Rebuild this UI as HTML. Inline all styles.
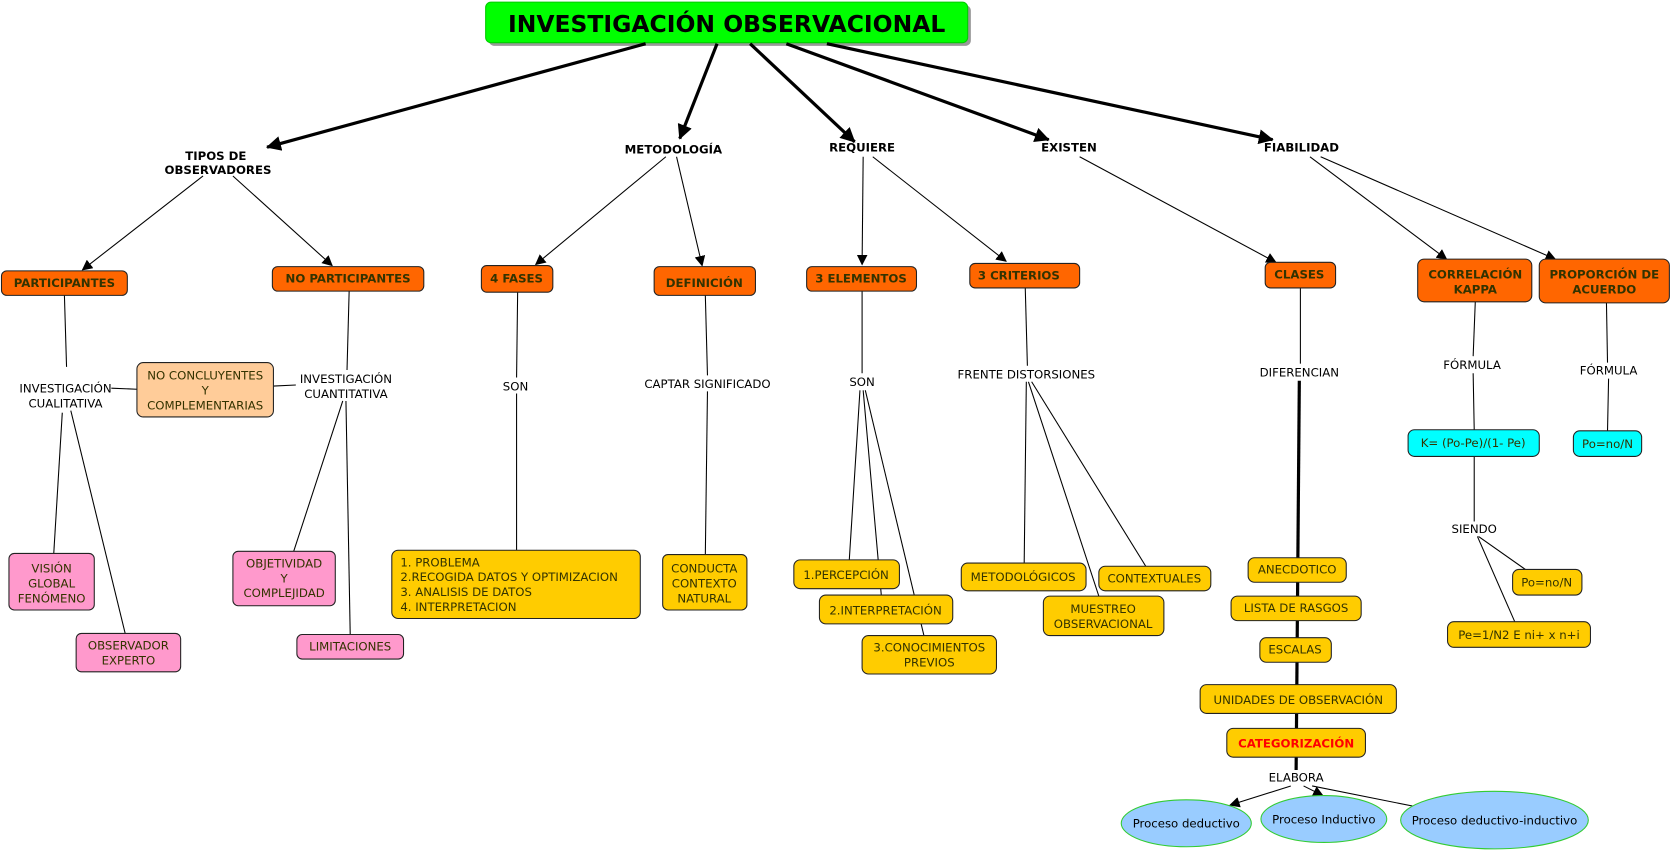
<!DOCTYPE html>
<html><head><meta charset="utf-8"><style>
html,body{margin:0;padding:0;background:#fff}
svg{display:block}
text{font-family:"DejaVu Sans","Liberation Sans",sans-serif;font-size:11px;text-anchor:middle;fill:#000}
.b{font-weight:bold}
.n{fill:#333300}
.o{fill:#ff6600;stroke:#222;stroke-width:1}
.y{fill:#ffcc00;stroke:#222;stroke-width:1}
.p{fill:#ff99cc;stroke:#222;stroke-width:1}
.c{fill:#00ffff;stroke:#222;stroke-width:1}
.l{stroke:#000;stroke-width:1;fill:none}
.t{stroke:#000;stroke-width:3;fill:none}
</style></head><body>
<svg width="1673" height="851" viewBox="0 0 1568 798" xmlns="http://www.w3.org/2000/svg">
<defs>
<marker id="a" markerWidth="10" markerHeight="10" refX="9" refY="5" orient="auto" markerUnits="userSpaceOnUse"><path d="M0,0 L10,5 L0,10 z"/></marker>
<marker id="A" markerWidth="14" markerHeight="14" refX="13" refY="7" orient="auto" markerUnits="userSpaceOnUse"><path d="M0,0 L14,7 L0,14 z"/></marker>
</defs>
<!-- title -->
<rect x="458" y="5" width="452" height="38" rx="5" fill="#999"/>
<rect x="455" y="2" width="452" height="38" rx="5" fill="#00ff00" stroke="#00cc00"/>
<text x="681" y="30" class="b" style="font-size:22px">INVESTIGACIÓN OBSERVACIONAL</text>
<!-- thick arrows -->
<line class="t" x1="605" y1="41" x2="250" y2="138" marker-end="url(#A)"/>
<line class="t" x1="672" y1="41" x2="637" y2="130" marker-end="url(#A)"/>
<line class="t" x1="703" y1="41" x2="801" y2="133" marker-end="url(#A)"/>
<line class="t" x1="737" y1="41" x2="983" y2="131" marker-end="url(#A)"/>
<line class="t" x1="775" y1="41" x2="1193" y2="131" marker-end="url(#A)"/>
<!-- level labels -->
<text x="202" y="150" class="b">TIPOS DE</text><text x="204" y="163" class="b">OBSERVADORES</text>
<text x="631" y="144" class="b">METODOLOGÍA</text>
<text x="808" y="142" class="b">REQUIERE</text>
<text x="1002" y="142" class="b">EXISTEN</text>
<text x="1220" y="142" class="b">FIABILIDAD</text>
<!-- thin arrows -->
<g class="l">
<line x1="190" y1="165" x2="77" y2="253" marker-end="url(#a)"/>
<line x1="218" y1="165" x2="311" y2="249" marker-end="url(#a)"/>
<line x1="624" y1="147" x2="502" y2="248" marker-end="url(#a)"/>
<line x1="634" y1="147" x2="658" y2="249" marker-end="url(#a)"/>
<line x1="809" y1="147" x2="808" y2="248" marker-end="url(#a)"/>
<line x1="818" y1="147" x2="943" y2="245" marker-end="url(#a)"/>
<line x1="1012" y1="147" x2="1196" y2="246" marker-end="url(#a)"/>
<line x1="1228" y1="147" x2="1356" y2="243" marker-end="url(#a)"/>
<line x1="1238" y1="147" x2="1458" y2="243" marker-end="url(#a)"/>
<!-- connectors -->
<line x1="60" y1="277" x2="62" y2="344"/>
<line x1="58" y1="387" x2="50" y2="519"/>
<line x1="66" y1="385" x2="117" y2="594"/>
<line x1="104" y1="364" x2="128" y2="365"/>
<line x1="256" y1="362" x2="277" y2="361"/>
<line x1="327" y1="273" x2="325" y2="347"/>
<line x1="321" y1="376" x2="275" y2="517"/>
<line x1="324" y1="376" x2="328" y2="595"/>
<line x1="485" y1="274" x2="484" y2="354"/>
<line x1="484" y1="369" x2="484" y2="516"/>
<line x1="661" y1="277" x2="663" y2="352"/>
<line x1="663" y1="367" x2="661" y2="520"/>
<line x1="808" y1="273" x2="808" y2="350"/>
<line x1="806" y1="366" x2="796" y2="525"/>
<line x1="809" y1="366" x2="826" y2="558"/>
<line x1="811" y1="366" x2="866" y2="596"/>
<line x1="961" y1="270" x2="963" y2="343"/>
<line x1="962" y1="358" x2="960" y2="528"/>
<line x1="964" y1="358" x2="1030" y2="559"/>
<line x1="967" y1="358" x2="1074" y2="531"/>
<line x1="1219" y1="270" x2="1219" y2="341"/>
<line x1="1383" y1="283" x2="1381" y2="334"/>
<line x1="1381" y1="350" x2="1382" y2="403"/>
<line x1="1382" y1="428" x2="1382" y2="489"/>
<line x1="1386" y1="503" x2="1430" y2="534"/>
<line x1="1385" y1="503" x2="1420" y2="583"/>
<line x1="1506" y1="284" x2="1507" y2="340"/>
<line x1="1508" y1="355" x2="1507" y2="404"/>
<line x1="1210" y1="737" x2="1153" y2="755" marker-end="url(#a)"/>
<line x1="1222" y1="737" x2="1240" y2="746" marker-end="url(#a)"/>
<line x1="1230" y1="737" x2="1330" y2="757"/>
</g>
<line x1="1218" y1="357" x2="1215" y2="722" stroke="#000" stroke-width="3"/>
<!-- link labels -->
<text x="61" y="368">INVESTIGACIÓN</text><text x="61" y="382">CUALITATIVA</text>
<text x="324" y="359">INVESTIGACIÓN</text><text x="324" y="373">CUANTITATIVA</text>
<text x="483" y="366">SON</text>
<text x="663" y="364">CAPTAR SIGNIFICADO</text>
<text x="808" y="362">SON</text>
<text x="962" y="355">FRENTE DISTORSIONES</text>
<text x="1218" y="353">DIFERENCIAN</text>
<text x="1380" y="346">FÓRMULA</text>
<text x="1382" y="500">SIENDO</text>
<text x="1508" y="351">FÓRMULA</text>
<text x="1215" y="733">ELABORA</text>
<!-- orange boxes -->
<rect class="o" x="1" y="254" width="118" height="23" rx="5"/><text x="60" y="269" class="b n">PARTICIPANTES</text>
<rect class="o" x="255" y="250" width="142" height="23" rx="5"/><text x="326" y="265" class="b n">NO PARTICIPANTES</text>
<rect class="o" x="451" y="249" width="67" height="25" rx="5"/><text x="484" y="265" class="b n">4 FASES</text>
<rect class="o" x="613" y="250" width="95" height="27" rx="5"/><text x="660" y="269" class="b n">DEFINICIÓN</text>
<rect class="o" x="756" y="250" width="103" height="23" rx="5"/><text x="807" y="265" class="b n">3 ELEMENTOS</text>
<rect class="o" x="909" y="247" width="103" height="23" rx="5"/><text x="955" y="262" class="b n">3 CRITERIOS</text>
<rect class="o" x="1186" y="246" width="66" height="24" rx="5"/><text x="1218" y="261" class="b n">CLASES</text>
<rect class="o" x="1329" y="243" width="107" height="40" rx="6"/><text x="1383" y="261" class="b n">CORRELACIÓN</text><text x="1383" y="275" class="b n">KAPPA</text>
<rect class="o" x="1443" y="243" width="122" height="41" rx="6"/><text x="1504" y="261" class="b n">PROPORCIÓN DE</text><text x="1504" y="275" class="b n">ACUERDO</text>
<!-- peach -->
<rect x="128" y="340" width="128" height="51" rx="6" fill="#ffcc99" stroke="#222"/>
<text x="192" y="356" class="n">NO CONCLUYENTES</text><text x="192" y="370" class="n">Y</text><text x="192" y="384" class="n">COMPLEMENTARIAS</text>
<!-- pink -->
<rect class="p" x="8" y="519" width="80" height="53" rx="5"/><text x="48" y="537" class="n">VISIÓN</text><text x="48" y="551" class="n">GLOBAL</text><text x="48" y="565" class="n">FENÓMENO</text>
<rect class="p" x="71" y="594" width="98" height="36" rx="5"/><text x="120" y="609" class="n">OBSERVADOR</text><text x="120" y="623" class="n">EXPERTO</text>
<rect class="p" x="218" y="517" width="96" height="51" rx="5"/><text x="266" y="532" class="n">OBJETIVIDAD</text><text x="266" y="546" class="n">Y</text><text x="266" y="560" class="n">COMPLEJIDAD</text>
<rect class="p" x="278" y="595" width="100" height="23" rx="5"/><text x="328" y="610" class="n">LIMITACIONES</text>
<!-- yellow -->
<rect class="y" x="367" y="516" width="233" height="64" rx="6"/>
<g style="text-anchor:start"><text x="375" y="531" class="n" style="text-anchor:start">1. PROBLEMA</text><text x="375" y="545" class="n" style="text-anchor:start">2.RECOGIDA DATOS Y OPTIMIZACION</text><text x="375" y="559" class="n" style="text-anchor:start">3. ANALISIS DE DATOS</text><text x="375" y="573" class="n" style="text-anchor:start">4. INTERPRETACION</text></g>
<rect class="y" x="621" y="520" width="79" height="52" rx="5"/><text x="660" y="537" class="n">CONDUCTA</text><text x="660" y="551" class="n">CONTEXTO</text><text x="660" y="565" class="n">NATURAL</text>
<rect class="y" x="744" y="525" width="99" height="27" rx="6"/><text x="793" y="543" class="n">1.PERCEPCIÓN</text>
<rect class="y" x="768" y="558" width="125" height="27" rx="6"/><text x="830" y="576" class="n">2.INTERPRETACIÓN</text>
<rect class="y" x="808" y="596" width="126" height="36" rx="6"/><text x="871" y="611" class="n">3.CONOCIMIENTOS</text><text x="871" y="625" class="n">PREVIOS</text>
<rect class="y" x="901" y="528" width="117" height="26" rx="6"/><text x="959" y="545" class="n">METODOLÓGICOS</text>
<rect class="y" x="1030" y="531" width="105" height="23" rx="6"/><text x="1082" y="546" class="n">CONTEXTUALES</text>
<rect class="y" x="978" y="559" width="113" height="37" rx="6"/><text x="1034" y="575" class="n">MUESTREO</text><text x="1034" y="589" class="n">OBSERVACIONAL</text>
<rect class="y" x="1170" y="523" width="92" height="23" rx="6"/><text x="1216" y="538" class="n">ANECDOTICO</text>
<rect class="y" x="1154" y="559" width="122" height="23" rx="6"/><text x="1215" y="574" class="n">LISTA DE RASGOS</text>
<rect class="y" x="1181" y="598" width="67" height="23" rx="6"/><text x="1214" y="613" class="n">ESCALAS</text>
<rect class="y" x="1125" y="642" width="184" height="27" rx="6"/><text x="1217" y="660" class="n">UNIDADES DE OBSERVACIÓN</text>
<rect class="y" x="1150" y="683" width="130" height="27" rx="6"/><text x="1215" y="701" class="b" style="fill:#ff0000">CATEGORIZACIÓN</text>
<rect class="y" x="1418" y="534" width="65" height="24" rx="6"/><text x="1450" y="550" class="n">Po=no/N</text>
<rect class="y" x="1357" y="583" width="134" height="24" rx="6"/><text x="1424" y="599" class="n">Pe=1/N2 E ni+ x n+i</text>
<!-- cyan -->
<rect class="c" x="1320" y="403" width="123" height="25" rx="6"/><text x="1381" y="419" class="n">K= (Po-Pe)/(1- Pe)</text>
<rect class="c" x="1475" y="404" width="64" height="24" rx="6"/><text x="1507" y="420" class="n">Po=no/N</text>
<!-- ellipses -->
<ellipse cx="1112" cy="772" rx="61" ry="22" fill="#99ccff" stroke="#33cc33"/><text x="1112" y="776">Proceso deductivo</text>
<ellipse cx="1241" cy="768" rx="59" ry="22" fill="#99ccff" stroke="#33cc33"/><text x="1241" y="772">Proceso Inductivo</text>
<ellipse cx="1401" cy="769" rx="88" ry="27" fill="#99ccff" stroke="#33cc33"/><text x="1401" y="773">Proceso deductivo-inductivo</text>
</svg>
</body></html>
